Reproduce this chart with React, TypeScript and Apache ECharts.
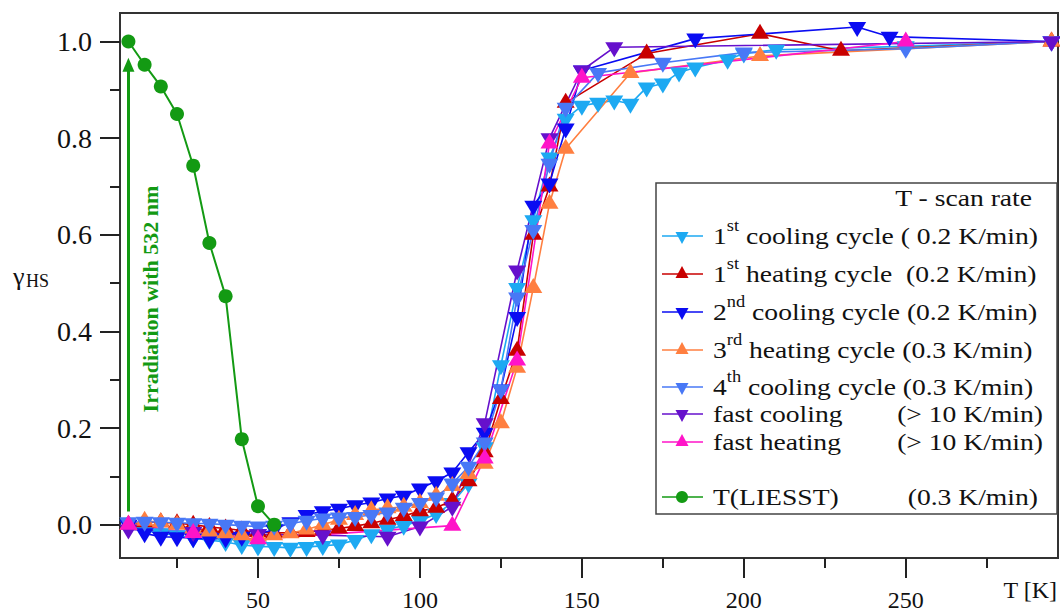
import React, { useEffect, useRef } from "react";
import * as echarts from "echarts";

const SERIF = "'Liberation Serif', 'Times New Roman', Times, serif";

// 1st cooling cycle (0.2 K/min)
const cool1T = [10, 15, 20, 25, 30, 35, 40, 45, 50, 55, 60, 65, 70, 75, 80, 85, 90, 95, 100, 105, 110, 115, 120, 125, 130, 135, 140, 145, 150, 155, 160, 165, 170, 175, 180, 185, 195, 200, 210, 250, 295];
const cool1Y = [0.0, -0.012, -0.018, -0.022, -0.028, -0.032, -0.036, -0.042, -0.045, -0.046, -0.048, -0.046, -0.044, -0.041, -0.032, -0.02, -0.01, -0.002, 0.008, 0.022, 0.045, 0.085, 0.16, 0.33, 0.49, 0.63, 0.76, 0.84, 0.867, 0.873, 0.878, 0.871, 0.905, 0.913, 0.936, 0.946, 0.962, 0.975, 0.983, 0.99, 1.0];

// 1st heating cycle (0.2 K/min)
const heat1T = [10, 15, 20, 25, 30, 35, 40, 45, 50, 55, 60, 65, 70, 75, 80, 85, 90, 95, 100, 105, 110, 115, 120, 125, 130, 135, 140, 145, 170, 205, 230, 295];
const heat1Y = [0.0, 0.005, 0.005, 0.003, 0.0, -0.005, -0.008, -0.012, -0.015, -0.017, -0.017, -0.015, -0.012, -0.008, -0.003, 0.003, 0.01, 0.018, 0.028, 0.035, 0.05, 0.09, 0.15, 0.26, 0.36, 0.6, 0.7, 0.873, 0.975, 1.016, 0.981, 1.0];

// 2nd cooling cycle (0.2 K/min)
const cool2T = [10, 15, 20, 25, 30, 35, 40, 45, 50, 55, 60, 65, 70, 75, 80, 85, 90, 95, 100, 105, 110, 115, 120, 125, 130, 135, 140, 145, 150, 185, 235, 245, 295];
const cool2Y = [0.0, -0.018, -0.025, -0.026, -0.028, -0.03, -0.028, -0.025, -0.02, -0.01, 0.005, 0.02, 0.028, 0.033, 0.04, 0.046, 0.054, 0.06, 0.075, 0.09, 0.108, 0.15, 0.19, 0.28, 0.43, 0.66, 0.706, 0.82, 0.94, 1.006, 1.03, 1.01, 1.0];

// 3rd heating cycle (0.3 K/min)
const heat3T = [10, 15, 20, 25, 30, 35, 40, 45, 50, 55, 60, 65, 70, 75, 80, 85, 90, 95, 100, 105, 110, 115, 120, 125, 130, 135, 140, 145, 165, 205, 295];
const heat3Y = [0.0, 0.008, 0.005, 0.0, -0.008, -0.014, -0.018, -0.022, -0.024, -0.022, -0.018, -0.01, 0.0, 0.01, 0.02, 0.03, 0.034, 0.037, 0.045, 0.06, 0.08, 0.105, 0.126, 0.21, 0.325, 0.49, 0.664, 0.778, 0.935, 0.97, 1.0];

// 4th cooling cycle (0.3 K/min)
const cool4T = [10, 15, 20, 25, 30, 35, 40, 45, 50, 55, 60, 65, 70, 75, 80, 85, 90, 95, 100, 105, 110, 115, 120, 125, 130, 135, 140, 145, 155, 175, 200, 250, 295];
const cool4Y = [0.005, 0.006, 0.005, 0.004, 0.003, 0.002, 0.0, -0.002, -0.004, -0.002, 0.002, 0.008, 0.013, 0.015, 0.016, 0.02, 0.025, 0.035, 0.045, 0.056, 0.085, 0.12, 0.17, 0.28, 0.47, 0.61, 0.747, 0.863, 0.935, 0.956, 0.977, 0.985, 1.0];

// fast cooling (> 10 K/min)
const fastCoolT = [10, 30, 50, 70, 90, 100, 110, 120, 130, 140, 150, 160, 295];
const fastCoolY = [-0.01, -0.015, -0.02, -0.022, -0.025, -0.004, 0.037, 0.21, 0.526, 0.8, 0.94, 0.988, 1.0];

// fast heating (> 10 K/min)
const fastHeatT = [10, 30, 50, 110, 120, 130, 140, 150, 250];
const fastHeatY = [0.0, -0.017, -0.03, -0.002, 0.137, 0.34, 0.789, 0.925, 1.0];

// relaxation after irradiation, T(LIESST) (0.3 K/min)
const liesstT = [10, 15, 20, 25, 30, 35, 40, 45, 50, 55];
const liesstY = [1.0, 0.952, 0.907, 0.85, 0.743, 0.583, 0.473, 0.177, 0.038, 0.0];

// irradiation arrow, from / to in data units
const arrowFrom = [10, 0.027];
const arrowTo = [10, 0.952];

const xLabelTicks = [50, 100, 150, 200, 250];
const xMinorTicks = [25, 75, 125, 175, 225, 275];
const yLabelTicks = [0, 0.2, 0.4, 0.6, 0.8, 1.0];
const yMinorTicks = [0.1, 0.3, 0.5, 0.7, 0.9];

const X_MIN = 7.4;
const X_MAX = 297;
const Y_MIN = -0.069;
const Y_MAX = 1.059;

type Marker = "down" | "up" | "circle";
type Run = {
  id: string;
  t: number[];
  y: number[];
  color: string;
  marker: Marker;
  num?: string;
  sup?: string;
  text: string;
  rate?: string;
};

const runs: Run[] = [
  { id: "cool1", t: cool1T, y: cool1Y, color: "#1DA9F2", marker: "down", num: "1", sup: "st", text: " cooling cycle ( 0.2 K/min)" },
  { id: "heat1", t: heat1T, y: heat1Y, color: "#C80000", marker: "up", num: "1", sup: "st", text: " heating cycle  (0.2 K/min)" },
  { id: "cool2", t: cool2T, y: cool2Y, color: "#0A0CF2", marker: "down", num: "2", sup: "nd", text: " cooling cycle (0.2 K/min)" },
  { id: "heat3", t: heat3T, y: heat3Y, color: "#FF7F40", marker: "up", num: "3", sup: "rd", text: " heating cycle (0.3 K/min)" },
  { id: "cool4", t: cool4T, y: cool4Y, color: "#4878F6", marker: "down", num: "4", sup: "th", text: " cooling cycle (0.3 K/min)" },
  { id: "fastCool", t: fastCoolT, y: fastCoolY, color: "#6610CC", marker: "down", text: "fast cooling", rate: "(> 10 K/min)" },
  { id: "fastHeat", t: fastHeatT, y: fastHeatY, color: "#FF14C8", marker: "up", text: "fast heating", rate: "(> 10 K/min)" },
  { id: "liesst", t: liesstT, y: liesstY, color: "#139A13", marker: "circle", text: "T(LIESST)", rate: "(0.3 K/min)" },
];

const GREEN = "#139A13";

// legend box layout
const LEG_X = 656;
const LEG_Y = 183;
const LEG_W = 401;
const LEG_H = 331;
const legendRowY = [236, 274, 312, 350, 387, 414, 442, 497];
const legendRateRight = [0, 0, 0, 0, 0, 1043, 1043, 1038];
const TEXT_SCALE = 1.15;

function buildSeries(run: Run): any {
  const tri = run.marker !== "circle";
  const h = 15;
  const s: any = {
    type: "line",
    name: run.id,
    data: run.t.map((t, i) => [t, run.y[i]]),
    symbol: tri ? "triangle" : "circle",
    symbolSize: tri ? [18, h] : 14,
    symbolRotate: run.marker === "down" ? 180 : 0,
    symbolOffset: run.marker === "down" ? [0, h / 6] : run.marker === "up" ? [0, -h / 6] : [0, 0],
    showSymbol: true,
    lineStyle: { color: run.color, width: run.marker === "circle" ? 2 : 1.6 },
    itemStyle: { color: run.color },
    emphasis: { disabled: true },
    silent: true,
  };
  if (run.id === "liesst") {
    s.markLine = {
      silent: true,
      symbol: ["none", "triangle"],
      symbolSize: [12, 14],
      lineStyle: { color: GREEN, width: 3, type: "solid" },
      label: { show: false },
      emphasis: { disabled: true },
      data: [[{ coord: arrowFrom }, { coord: arrowTo }]],
    };
  }
  return s;
}

function legendGraphics(): any[] {
  const els: any[] = [];
  els.push({
    type: "rect",
    shape: { x: LEG_X, y: LEG_Y, width: LEG_W, height: LEG_H },
    style: { fill: "#fff", stroke: "#444", lineWidth: 1.5 },
    z: 10,
  });
  els.push({
    type: "text",
    x: 1032,
    y: 198,
    scaleX: TEXT_SCALE,
    style: { text: "T - scan rate", fontSize: 24, fontFamily: SERIF, fill: "#111", align: "right", verticalAlign: "middle" },
    z: 11,
  });
  runs.forEach((run, i) => {
    const cy = legendRowY[i];
    const cx = 682;
    els.push({
      type: "line",
      shape: { x1: 662, y1: cy, x2: 703, y2: cy },
      style: { stroke: run.color, lineWidth: 1.5 },
      z: 11,
    });
    if (run.marker === "circle") {
      els.push({ type: "circle", shape: { cx, cy, r: 6 }, style: { fill: run.color }, z: 12 });
    } else if (run.marker === "down") {
      els.push({
        type: "polygon",
        shape: { points: [[cx - 6.5, cy - 4], [cx + 6.5, cy - 4], [cx, cy + 8]] },
        style: { fill: run.color },
        z: 12,
      });
    } else {
      els.push({
        type: "polygon",
        shape: { points: [[cx - 6.5, cy + 4], [cx + 6.5, cy + 4], [cx, cy - 8]] },
        style: { fill: run.color },
        z: 12,
      });
    }
    if (run.num) {
      els.push({
        type: "text",
        x: 713,
        y: cy - 3,
        scaleX: TEXT_SCALE,
        style: {
          text: `{m|${run.num}}{s|${run.sup}}{m|${run.text}}`,
          align: "left",
          verticalAlign: "middle",
          rich: {
            m: { fontSize: 24, fontFamily: SERIF, fill: "#111", padding: [6, 0, 0, 0] },
            s: { fontSize: 16, fontFamily: SERIF, fill: "#111", verticalAlign: "top" },
          },
        },
        z: 12,
      });
    } else {
      els.push({
        type: "text",
        x: 713,
        y: cy,
        scaleX: TEXT_SCALE,
        style: { text: run.text, fontSize: 24, fontFamily: SERIF, fill: "#111", align: "left", verticalAlign: "middle" },
        z: 12,
      });
      els.push({
        type: "text",
        x: legendRateRight[i],
        y: cy,
        scaleX: TEXT_SCALE,
        style: { text: run.rate, fontSize: 24, fontFamily: SERIF, fill: "#111", align: "right", verticalAlign: "middle" },
        z: 12,
      });
    }
  });
  return els;
}

export default function App() {
  const ref = useRef<HTMLDivElement>(null);

  useEffect(() => {
    if (!ref.current) return;
    const chart = echarts.init(ref.current, undefined, { renderer: "svg" });
    const tickStyle = { color: "#222", width: 2 };
    const option: any = {
      animation: false,
      backgroundColor: "#fff",
      textStyle: { fontFamily: SERIF },
      grid: {
        left: 120,
        right: 2,
        top: 13,
        bottom: 55,
        show: true,
        borderColor: "#333",
        borderWidth: 2,
        backgroundColor: "transparent",
      },
      xAxis: [
        {
          type: "value",
          min: X_MIN,
          max: X_MAX,
          position: "bottom",
          axisLine: { show: false, onZero: false },
          splitLine: { show: false },
          axisTick: { show: true, length: 20, lineStyle: tickStyle, customValues: xLabelTicks },
          axisLabel: { customValues: xLabelTicks, margin: 30, fontSize: 24, fontFamily: SERIF, color: "#111" },
        },
        {
          type: "value",
          min: X_MIN,
          max: X_MAX,
          position: "bottom",
          axisLine: { show: false, onZero: false },
          splitLine: { show: false },
          axisTick: { show: true, length: 10, lineStyle: tickStyle, customValues: xMinorTicks },
          axisLabel: { show: false },
        },
      ],
      yAxis: [
        {
          type: "value",
          min: Y_MIN,
          max: Y_MAX,
          position: "left",
          axisLine: { show: false, onZero: false },
          splitLine: { show: false },
          axisTick: { show: true, length: 20, lineStyle: tickStyle, customValues: yLabelTicks },
          axisLabel: {
            customValues: yLabelTicks,
            margin: 28,
            fontSize: 28,
            fontFamily: SERIF,
            color: "#111",
            formatter: (v: number) => v.toFixed(1),
          },
        },
        {
          type: "value",
          min: Y_MIN,
          max: Y_MAX,
          position: "left",
          axisLine: { show: false, onZero: false },
          splitLine: { show: false },
          axisTick: { show: true, length: 10, lineStyle: tickStyle, customValues: yMinorTicks },
          axisLabel: { show: false },
        },
      ],
      series: runs.map(buildSeries),
      graphic: [
        {
          type: "text",
          x: 150,
          y: 299,
          rotation: Math.PI / 2,
          style: {
            text: "Irradiation with 532 nm",
            fontSize: 22,
            fontWeight: "bold",
            fontFamily: SERIF,
            fill: GREEN,
            align: "center",
            verticalAlign: "middle",
          },
          z: 5,
        },
        {
          type: "text",
          x: 13,
          y: 276,
          style: { text: "γ", fontSize: 26, fontFamily: SERIF, fill: "#111", align: "left", verticalAlign: "middle" },
        },
        {
          type: "text",
          x: 26,
          y: 281,
          style: { text: "HS", fontSize: 18, fontFamily: SERIF, fill: "#111", align: "left", verticalAlign: "middle" },
        },
        {
          type: "text",
          x: 1057,
          y: 590,
          style: { text: "T [K]", fontSize: 24, fontFamily: SERIF, fill: "#111", align: "right", verticalAlign: "middle" },
        },
        ...legendGraphics(),
      ],
    };
    chart.setOption(option);
    return () => chart.dispose();
  }, []);

  return (
    <div
      ref={ref}
      style={{ position: "fixed", left: 0, top: 0, width: 1060, height: 613, background: "#fff" }}
    />
  );
}
